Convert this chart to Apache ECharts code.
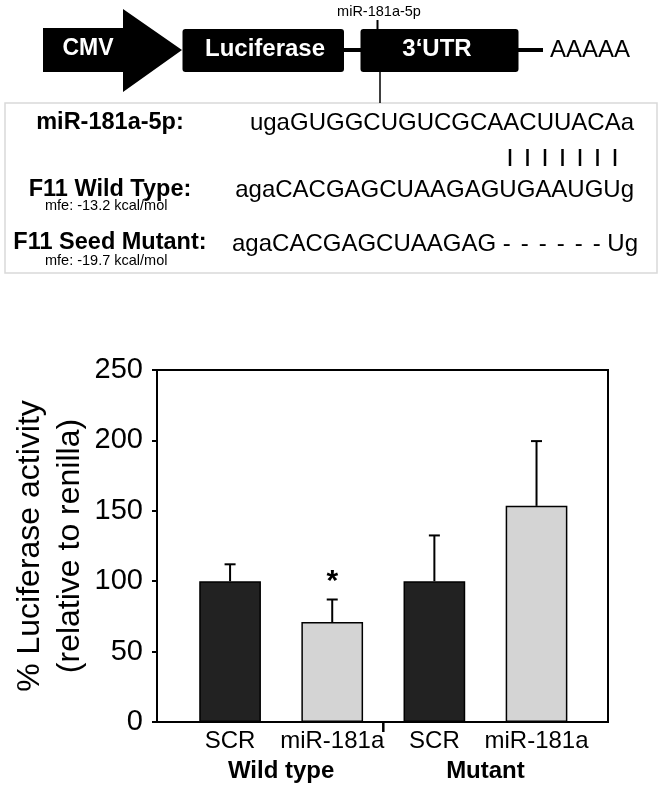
<!DOCTYPE html>
<html>
<head>
<meta charset="utf-8">
<script src="https://cdn.jsdelivr.net/npm/echarts@6/dist/echarts.min.js"></script>
<style>
    html, body {margin:0; padding:0; background:#fff;}
    #main {width:664px; height:790px;}
</style>
</head>
<body>
<div id="main"></div>
<script>
    // bar chart values
    var categories = ['SCR', 'miR-181a', 'SCR', 'miR-181a'];
    var groups = ['Wild type', 'Mutant'];
    var means = [100, 71, 100, 153.5];
    var errors = [12, 16, 32.5, 46];
    var signif = ['', '*', '', ''];
    var barColors = ['#222222', '#d4d4d4', '#222222', '#d4d4d4'];
    var yTicks = [0, 50, 100, 150, 200, 250];

    // construct + sequence texts
    var constructParts = ['CMV', 'Luciferase', '3\u2018UTR', 'AAAAA'];
    var siteLabel = 'miR-181a-5p';
    var seqLabels = ['miR-181a-5p:', 'F11 Wild Type:', 'F11 Seed Mutant:'];
    var mfeLabels = ['mfe: -13.2 kcal/mol', 'mfe: -19.7 kcal/mol'];
    var seqMir = 'ugaGUGGCUGUCGCAACUUACAa';
    var seqWild = 'agaCACGAGCUAAGAGUGAAUGUg';
    var seqMutHead = 'agaCACGAGCUAAGAG';
    var gap = '\u2004\u200A';
    var seqMutTail = ['-', '-', '-', '-', '-', '-'].join(gap) + ' Ug';
    var seedPairs = 7;

    var FONT = '"Liberation Sans", Arial, sans-serif';

    var chartDom = document.getElementById('main');
    var myChart = echarts.init(chartDom);

    function txt(x, y, text, size, opts) {
        opts = opts || {};
        return {
            type: 'text',
            z: 10,
            style: {
                x: x, y: y, text: text,
                fill: opts.fill || '#000',
                font: (opts.bold ? 'bold ' : '') + size + 'px ' + FONT,
                align: opts.align || 'center',
                verticalAlign: 'middle'
            }
        };
    }
    function ln(x1, y1, x2, y2, w, c) {
        return {type: 'line', z: 5, shape: {x1: x1, y1: y1, x2: x2, y2: y2},
            style: {stroke: c || '#000', lineWidth: w}};
    }

    // top schematic
    var graphics = [
        {type: 'polygon', z: 5, shape: {points: [[43, 28], [123, 28], [123, 9], [182, 50], [123, 92], [123, 72], [43, 72]]},
            style: {fill: '#000'}},
        {type: 'rect', z: 5, shape: {x: 182.5, y: 29, width: 161.5, height: 43, r: 3}, style: {fill: '#000'}},
        {type: 'rect', z: 5, shape: {x: 360.5, y: 29, width: 158, height: 43, r: 3}, style: {fill: '#000'}},
        ln(344, 50, 361, 50, 4),
        ln(518, 50, 543, 50, 4),
        ln(377.5, 20, 377.5, 29, 2),
        ln(380, 72, 380, 103, 1.5),
        txt(88, 49, constructParts[0], 23, {bold: true, fill: '#fff'}),
        txt(265, 49, constructParts[1], 24, {bold: true, fill: '#fff'}),
        txt(437, 49, constructParts[2], 24, {bold: true, fill: '#fff'}),
        txt(550, 50, constructParts[3], 24, {align: 'left'}),
        txt(379, 12, siteLabel, 14.5),
        {type: 'rect', z: 1, shape: {x: 5, y: 103, width: 652, height: 170},
            style: {fill: 'none', stroke: '#d9d9d9', lineWidth: 1.5}},
        txt(110, 123, seqLabels[0], 23.5, {bold: true}),
        txt(110, 190, seqLabels[1], 23.5, {bold: true}),
        txt(110, 243, seqLabels[2], 23.5, {bold: true}),
        txt(45, 206, mfeLabels[0], 14.5, {align: 'left'}),
        txt(45, 261, mfeLabels[1], 14.5, {align: 'left'}),
        txt(634, 123, seqMir, 24, {align: 'right'}),
        txt(634, 190, seqWild, 24, {align: 'right'}),
        txt(232, 244, seqMutHead, 24, {align: 'left'}),
        txt(638, 244, seqMutTail, 24, {align: 'right'})
    ];
    for (var k = 0; k < seedPairs; k++) {
        var px = 510 + k * 17.5;
        graphics.push(ln(px, 149, px, 166, 2.5));
    }

    var errData = means.map(function (m, i) { return [i, m, m + errors[i]]; });

    var option = {
        backgroundColor: '#fff',
        animation: false,
        textStyle: {fontFamily: FONT, color: '#000'},
        graphic: graphics,
        grid: [
            {left: 157, right: 56, top: 370, bottom: 68, show: true, borderColor: '#000', borderWidth: 2,
                backgroundColor: 'transparent', outerBoundsMode: 'none'},
            {left: 179, right: 76.4, top: 370, bottom: 68, outerBoundsMode: 'none'},
            {left: 179, right: 76.4, top: 370, bottom: 68, outerBoundsMode: 'none'}
        ],
        xAxis: [
            {gridIndex: 0, type: 'value', min: 0, max: 1, show: false},
            {gridIndex: 1, type: 'category', data: categories,
                axisLine: {show: false},
                axisTick: {alignWithLabel: true, length: 5, lineStyle: {color: '#000', width: 1.5}},
                axisLabel: {color: '#000', fontSize: 24, fontFamily: FONT, margin: 7, interval: 0}},
            {gridIndex: 2, type: 'category', data: groups,
                axisLine: {show: false}, axisTick: {show: false},
                axisLabel: {color: '#000', fontSize: 24, fontWeight: 'bold', fontFamily: FONT, margin: 37, interval: 0}}
        ],
        yAxis: [
            {gridIndex: 0, type: 'value', min: yTicks[0], max: yTicks[yTicks.length - 1], interval: 50,
                axisLine: {show: true, lineStyle: {color: '#000', width: 2}},
                axisTick: {show: true, length: 5, lineStyle: {color: '#000', width: 2}},
                splitLine: {show: false},
                axisLabel: {color: '#000', fontSize: 29, fontFamily: FONT, margin: 14},
                name: '% Luciferase activity\n(relative to renilla)',
                nameLocation: 'middle', nameRotate: 90, nameGap: 67, nameMoveOverlap: false,
                nameTextStyle: {color: '#000', fontSize: 32, fontFamily: FONT, lineHeight: 40}},
            {gridIndex: 1, type: 'value', min: 0, max: 250, show: false},
            {gridIndex: 2, type: 'value', min: 0, max: 250, show: false}
        ],
        series: [
            {
                type: 'bar', xAxisIndex: 1, yAxisIndex: 1, barWidth: '60.4%',
                data: means.map(function (m, i) {
                    return {value: m, itemStyle: {color: barColors[i], borderColor: '#000', borderWidth: 1.5}};
                }),
                z: 2
            },
            {
                type: 'custom', xAxisIndex: 1, yAxisIndex: 1, z: 5,
                data: errData,
                renderItem: function (params, api) {
                    var i = api.value(0);
                    var base = api.coord([i, api.value(1)]);
                    var top = api.coord([i, api.value(2)]);
                    var cap = 5.5;
                    var st = {stroke: '#000', lineWidth: 2};
                    var children = [
                        {type: 'line', shape: {x1: base[0], y1: base[1], x2: top[0], y2: top[1]}, style: st},
                        {type: 'line', shape: {x1: top[0] - cap, y1: top[1], x2: top[0] + cap, y2: top[1]}, style: st}
                    ];
                    if (signif[params.dataIndex]) {
                        children.push({type: 'text', style: {x: top[0], y: top[1] - 18, text: signif[params.dataIndex],
                            font: 'bold 30px ' + FONT, fill: '#000', align: 'center', verticalAlign: 'middle'}});
                    }
                    // group separator tick between wild type and mutant
                    if (params.dataIndex === 1) {
                        var zero = api.coord([i, 0]);
                        var half = api.size([1, 0])[0] / 2;
                        children.push({type: 'line', shape: {x1: zero[0] + half, y1: zero[1], x2: zero[0] + half, y2: zero[1] + 10},
                            style: {stroke: '#000', lineWidth: 2.5}});
                    }
                    return {type: 'group', children: children};
                }
            }
        ]
    };
    myChart.setOption(option);
</script>
</body>
</html>
